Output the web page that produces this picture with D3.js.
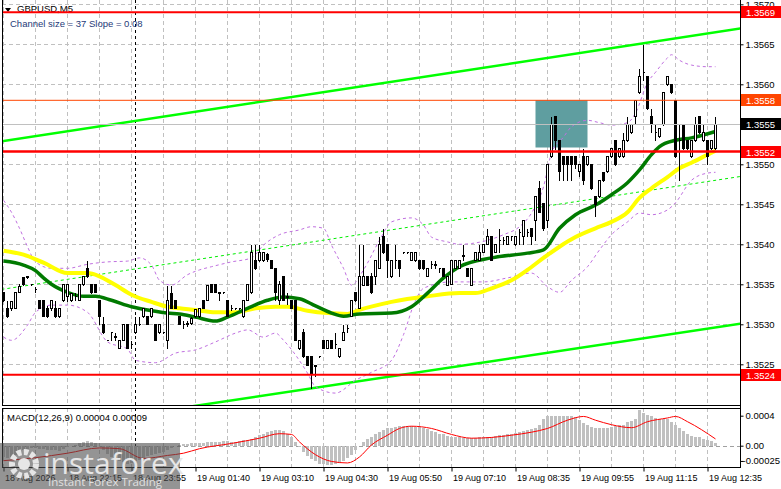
<!DOCTYPE html>
<html>
<head>
<meta charset="utf-8">
<script src="https://cdn.jsdelivr.net/npm/d3@7"></script>
<style>
html, body { margin: 0; padding: 0; background: #fff; }
svg { display: block; font-family: "Liberation Sans", Arial, sans-serif; }
</style>
</head>
<body>
<svg id="chart" width="781" height="489"></svg>
<script>
// GBPUSD M5 candles, one entry per bar (bar 0 = left edge)
const opens = [
  1.35340,1.35320,1.35320,1.35320,1.35340,1.35359,1.35359,1.35350,1.35344,1.35330,
  1.35330,1.35320,1.35320,1.35320,1.35310,1.35330,1.35335,1.35330,1.35336,1.35330,
  1.35350,1.35370,1.35350,1.35350,1.35330,1.35300,1.35280,1.35290,1.35285,1.35270,
  1.35280,1.35300,1.35275,1.35290,1.35300,1.35310,1.35310,1.35310,1.35300,1.35290,
  1.35290,1.35280,1.35339,1.35330,1.35311,1.35300,1.35300,1.35302,1.35310,1.35310,
  1.35330,1.35330,1.35350,1.35350,1.35340,1.35340,1.35330,1.35320,1.35320,1.35320,
  1.35310,1.35330,1.35341,1.35380,1.35380,1.35380,1.35388,1.35380,1.35370,1.35330,
  1.35360,1.35335,1.35330,1.35330,1.35270,1.35291,1.35260,1.35260,1.35249,1.35260,
  1.35280,1.35270,1.35280,1.35275,1.35260,1.35280,1.35295,1.35310,1.35341,1.35320,
  1.35349,1.35360,1.35360,1.35360,1.35370,1.35410,1.35400,1.35360,1.35380,1.35380,
  1.35390,1.35390,1.35380,1.35380,1.35380,1.35380,1.35360,1.35375,1.35375,1.35370,
  1.35370,1.35349,1.35350,1.35370,1.35370,1.35385,1.35370,1.35349,1.35380,1.35380,
  1.35390,1.35400,1.35410,1.35390,1.35405,1.35405,1.35400,1.35410,1.35400,1.35415,
  1.35410,1.35415,1.35420,1.35430,1.35470,1.35451,1.35430,1.35510,1.35560,1.35530,
  1.35510,1.35510,1.35510,1.35510,1.35491,1.35510,1.35500,1.35500,1.35460,1.35460,
  1.35490,1.35491,1.35510,1.35530,1.35510,1.35510,1.35530,1.35540,1.35560,1.35590,
  1.35615,1.35610,1.35560,1.35540,1.35535,1.35550,1.35600,1.35600,1.35580,1.35530,
  1.35550,1.35530,1.35510,1.35530,1.35560,1.35530,1.35530,1.35520,1.35520
];
const highs = [
  1.35342,1.35330,1.35330,1.35341,1.35352,1.35361,1.35360,1.35351,1.35348,1.35331,
  1.35332,1.35324,1.35332,1.35330,1.35321,1.35351,1.35352,1.35340,1.35341,1.35350,
  1.35360,1.35380,1.35351,1.35351,1.35331,1.35310,1.35281,1.35290,1.35290,1.35281,
  1.35300,1.35301,1.35280,1.35310,1.35310,1.35321,1.35312,1.35322,1.35301,1.35301,
  1.35291,1.35349,1.35349,1.35331,1.35312,1.35305,1.35305,1.35310,1.35320,1.35320,
  1.35331,1.35350,1.35351,1.35351,1.35341,1.35341,1.35331,1.35326,1.35321,1.35321,
  1.35331,1.35351,1.35400,1.35400,1.35401,1.35391,1.35390,1.35381,1.35372,1.35355,
  1.35362,1.35340,1.35331,1.35331,1.35281,1.35295,1.35261,1.35261,1.35250,1.35261,
  1.35281,1.35281,1.35281,1.35290,1.35270,1.35300,1.35300,1.35332,1.35342,1.35400,
  1.35400,1.35361,1.35365,1.35381,1.35410,1.35420,1.35401,1.35381,1.35400,1.35381,
  1.35391,1.35391,1.35391,1.35391,1.35381,1.35381,1.35371,1.35380,1.35380,1.35371,
  1.35371,1.35361,1.35381,1.35381,1.35381,1.35400,1.35371,1.35371,1.35391,1.35400,
  1.35401,1.35420,1.35411,1.35401,1.35420,1.35410,1.35411,1.35411,1.35411,1.35420,
  1.35431,1.35420,1.35421,1.35461,1.35480,1.35452,1.35500,1.35560,1.35561,1.35531,
  1.35512,1.35511,1.35511,1.35511,1.35501,1.35520,1.35511,1.35501,1.35461,1.35481,
  1.35491,1.35511,1.35521,1.35531,1.35521,1.35540,1.35560,1.35551,1.35581,1.35620,
  1.35650,1.35611,1.35570,1.35550,1.35546,1.35592,1.35611,1.35601,1.35581,1.35550,
  1.35551,1.35531,1.35531,1.35560,1.35561,1.35550,1.35531,1.35531,1.35560
];
const lows = [
  1.35329,1.35309,1.35318,1.35320,1.35340,1.35349,1.35358,1.35349,1.35340,1.35320,
  1.35310,1.35309,1.35318,1.35309,1.35309,1.35329,1.35329,1.35329,1.35330,1.35330,
  1.35349,1.35359,1.35339,1.35340,1.35300,1.35289,1.35280,1.35280,1.35280,1.35270,
  1.35280,1.35270,1.35270,1.35289,1.35299,1.35309,1.35300,1.35309,1.35280,1.35289,
  1.35289,1.35270,1.35320,1.35320,1.35300,1.35295,1.35298,1.35300,1.35309,1.35309,
  1.35320,1.35330,1.35340,1.35340,1.35330,1.35339,1.35310,1.35318,1.35319,1.35319,
  1.35309,1.35330,1.35339,1.35369,1.35379,1.35379,1.35379,1.35370,1.35330,1.35325,
  1.35330,1.35325,1.35320,1.35280,1.35269,1.35259,1.35249,1.35220,1.35235,1.35259,
  1.35270,1.35270,1.35270,1.35270,1.35259,1.35280,1.35290,1.35310,1.35329,1.35320,
  1.35349,1.35349,1.35339,1.35350,1.35370,1.35389,1.35359,1.35359,1.35370,1.35360,
  1.35389,1.35389,1.35380,1.35379,1.35369,1.35369,1.35360,1.35370,1.35370,1.35365,
  1.35360,1.35349,1.35350,1.35370,1.35370,1.35380,1.35360,1.35349,1.35380,1.35380,
  1.35390,1.35400,1.35380,1.35390,1.35390,1.35400,1.35400,1.35405,1.35399,1.35400,
  1.35400,1.35410,1.35400,1.35405,1.35440,1.35418,1.35422,1.35509,1.35519,1.35480,
  1.35480,1.35480,1.35480,1.35495,1.35485,1.35475,1.35499,1.35469,1.35435,1.35459,
  1.35479,1.35490,1.35509,1.35499,1.35509,1.35509,1.35529,1.35539,1.35550,1.35589,
  1.35605,1.35569,1.35540,1.35530,1.35534,1.35549,1.35599,1.35589,1.35509,1.35480,
  1.35519,1.35519,1.35509,1.35529,1.35539,1.35529,1.35500,1.35519,1.35519
];
const closes = [
  1.35330,1.35310,1.35329,1.35340,1.35348,1.35350,1.35360,1.35350,1.35344,1.35320,
  1.35310,1.35310,1.35330,1.35310,1.35320,1.35350,1.35350,1.35339,1.35336,1.35350,
  1.35360,1.35360,1.35340,1.35340,1.35310,1.35290,1.35280,1.35290,1.35284,1.35280,
  1.35300,1.35270,1.35276,1.35300,1.35300,1.35320,1.35300,1.35320,1.35280,1.35300,
  1.35290,1.35330,1.35320,1.35320,1.35300,1.35300,1.35302,1.35308,1.35319,1.35320,
  1.35320,1.35349,1.35341,1.35341,1.35339,1.35340,1.35310,1.35320,1.35320,1.35320,
  1.35330,1.35350,1.35391,1.35370,1.35390,1.35390,1.35382,1.35370,1.35341,1.35350,
  1.35330,1.35334,1.35320,1.35280,1.35280,1.35260,1.35249,1.35239,1.35248,1.35260,
  1.35270,1.35280,1.35270,1.35275,1.35270,1.35291,1.35295,1.35330,1.35330,1.35360,
  1.35360,1.35349,1.35340,1.35380,1.35400,1.35390,1.35380,1.35380,1.35380,1.35370,
  1.35390,1.35390,1.35390,1.35390,1.35370,1.35370,1.35370,1.35375,1.35374,1.35370,
  1.35360,1.35360,1.35380,1.35380,1.35380,1.35386,1.35360,1.35370,1.35390,1.35390,
  1.35400,1.35410,1.35380,1.35400,1.35405,1.35405,1.35410,1.35410,1.35410,1.35415,
  1.35430,1.35415,1.35410,1.35460,1.35441,1.35420,1.35500,1.35550,1.35530,1.35491,
  1.35500,1.35500,1.35500,1.35500,1.35500,1.35480,1.35510,1.35470,1.35450,1.35480,
  1.35480,1.35510,1.35520,1.35500,1.35520,1.35530,1.35550,1.35550,1.35580,1.35610,
  1.35615,1.35570,1.35550,1.35540,1.35545,1.35591,1.35610,1.35590,1.35510,1.35530,
  1.35520,1.35520,1.35530,1.35550,1.35541,1.35540,1.35510,1.35530,1.35550
];

// moving averages and bands: [bar, price]
const greenMA = [
  [0,1.35379],[5,1.35374],[8,1.35367],[10,1.35358],[12,1.35350],[16,1.35340],[20,1.35335],
  [23,1.35335],[27,1.35330],[32,1.35322],[37,1.35317],[41,1.35314],[44,1.35313],[48,1.35309],
  [53,1.35304],[56,1.35309],[61,1.35320],[66,1.35330],[70,1.35334],[74,1.35332],[78,1.35323],
  [82,1.35314],[85,1.35310],[89,1.35313],[97,1.35314],[102,1.35322],[106,1.35339],[110,1.35358],
  [114,1.35372],[122,1.35383],[131,1.35389],[135,1.35393],[139,1.35420],[143,1.35437],
  [148,1.35449],[152,1.35462],[156,1.35477],[159,1.35493],[162,1.35512],[164,1.35522],
  [168,1.35530],[172,1.35533],[178,1.35541]
];
const yellowMA = [
  [0,1.35392],[5,1.35387],[10,1.35377],[16,1.35364],[21,1.35364],[24,1.35360],[28,1.35349],
  [32,1.35337],[37,1.35328],[41,1.35322],[44,1.35320],[48,1.35318],[53,1.35315],[58,1.35315],
  [63,1.35320],[68,1.35322],[71,1.35322],[76,1.35317],[81,1.35314],[86,1.35313],[89,1.35318],
  [97,1.35328],[106,1.35335],[114,1.35339],[118,1.35339],[122,1.35345],[127,1.35355],
  [131,1.35368],[135,1.35383],[139,1.35397],[143,1.35409],[148,1.35420],[152,1.35428],
  [156,1.35440],[159,1.35458],[162,1.35470],[166,1.35484],[169,1.35495],[172,1.35502],
  [176,1.35512],[178,1.35517]
];
const upperBand = [
  [0,1.35455],[2,1.35440],[4,1.35420],[6,1.35397],[8,1.35378],[12,1.35370],[16,1.35370],
  [21,1.35375],[26,1.35378],[31,1.35379],[34,1.35383],[37,1.35374],[39,1.35355],[42,1.35349],
  [46,1.35362],[49,1.35368],[52,1.35372],[57,1.35378],[62,1.35383],[65,1.35399],[69,1.35412],
  [74,1.35418],[77,1.35422],[80,1.35420],[82,1.35399],[85,1.35370],[87,1.35349],[90,1.35368],
  [94,1.35405],[97,1.35428],[102,1.35433],[105,1.35424],[107,1.35409],[111,1.35403],
  [114,1.35400],[117,1.35401],[121,1.35405],[125,1.35412],[129,1.35422],[132,1.35439],
  [135,1.35472],[137,1.35514],[140,1.35534],[142,1.35547],[146,1.35555],[149,1.35552],
  [152,1.35549],[156,1.35552],[158,1.35564],[161,1.35602],[163,1.35615],[166,1.35633],
  [167,1.35637],[169,1.35630],[172,1.35624],[176,1.35622],[178,1.35622]
];
const lowerBand = [
  [0,1.35284],[2,1.35280],[6,1.35299],[8,1.35315],[12,1.35324],[16,1.35324],[21,1.35315],
  [26,1.35278],[31,1.35269],[33,1.35255],[38,1.35252],[43,1.35264],[48,1.35268],[53,1.35278],
  [58,1.35289],[61,1.35293],[65,1.35284],[68,1.35289],[70,1.35280],[76,1.35239],[78,1.35222],
  [83,1.35214],[88,1.35230],[92,1.35240],[97,1.35255],[100,1.35287],[103,1.35330],[105,1.35345],
  [112,1.35353],[116,1.35353],[120,1.35353],[126,1.35358],[132,1.35364],[136,1.35347],
  [139,1.35340],[142,1.35355],[146,1.35372],[149,1.35393],[152,1.35412],[156,1.35428],
  [159,1.35439],[162,1.35437],[166,1.35443],[168,1.35452],[172,1.35480],[176,1.35489],
  [178,1.35490]
];

// regression channel: price at bar 0 and bar 178
const channelBars = [0, 178];
const channelUpper = [1.35529, 1.35665];
const channelMid = [1.35344, 1.35480];
const channelLower = [1.35162, 1.35296];

// horizontal levels and the marked zone
const levelPrices = [1.3569, 1.3558, 1.35516, 1.35237];
const zoneBars = [133, 146];
const zonePrices = [1.35580, 1.35521];

// MACD(12,26,9): histogram per bar, signal read at points
const macdHist = [
  -0.00015,-0.00016,-0.00015,-0.00012,-0.00009,-0.00006,-0.00004,-0.00003,-0.00003,-0.00004,
  -0.00005,-0.00006,-0.00006,-0.00006,-0.00007,-0.00005,-0.00002,0.00000,0.00001,0.00003,
  0.00005,0.00006,0.00005,0.00003,-0.00001,-0.00006,-0.00011,-0.00015,-0.00018,-0.00021,
  -0.00022,-0.00024,-0.00023,-0.00021,-0.00019,-0.00017,-0.00014,-0.00012,-0.00011,-0.00010,
  -0.00009,-0.00006,-0.00003,-0.00001,0.00001,0.00002,0.00002,0.00003,0.00003,0.00003,
  0.00004,0.00005,0.00005,0.00005,0.00005,0.00006,0.00006,0.00005,0.00005,0.00006,
  0.00007,0.00008,0.00009,0.00011,0.00014,0.00016,0.00018,0.00020,0.00021,0.00021,
  0.00019,0.00016,0.00011,0.00005,-0.00002,-0.00009,-0.00014,-0.00018,-0.00021,-0.00024,
  -0.00025,-0.00026,-0.00026,-0.00025,-0.00023,-0.00020,-0.00016,-0.00012,-0.00006,0.00000,
  0.00005,0.00009,0.00012,0.00015,0.00018,0.00021,0.00023,0.00024,0.00025,0.00026,
  0.00026,0.00026,0.00026,0.00025,0.00025,0.00024,0.00022,0.00020,0.00018,0.00016,
  0.00015,0.00013,0.00012,0.00011,0.00011,0.00010,0.00010,0.00010,0.00010,0.00011,
  0.00011,0.00012,0.00012,0.00013,0.00014,0.00014,0.00015,0.00016,0.00017,0.00018,
  0.00019,0.00021,0.00022,0.00023,0.00028,0.00036,0.00039,0.00040,0.00040,0.00040,
  0.00040,0.00040,0.00039,0.00038,0.00034,0.00030,0.00027,0.00025,0.00024,0.00023,
  0.00023,0.00024,0.00025,0.00026,0.00027,0.00028,0.00031,0.00033,0.00036,0.00047,
  0.00044,0.00041,0.00040,0.00037,0.00036,0.00035,0.00035,0.00032,0.00028,0.00023,
  0.00019,0.00016,0.00013,0.00012,0.00011,0.00009,0.00007,0.00006,0.00004
];
const macdSignal = [
  [0,-0.00020],[8,-0.00016],[16,-0.00010],[24,-0.00003],[29,-0.00004],[35,-0.00017],
  [41,-0.00013],[45,-0.00010],[49,-0.00004],[57,0.00003],[64,0.00010],[69,0.00016],
  [72,0.00015],[74,0.00005],[78,-0.00012],[82,-0.00021],[86,-0.00023],[89,-0.00015],
  [92,0.00001],[96,0.00014],[99,0.00023],[102,0.00026],[107,0.00023],[112,0.00015],
  [117,0.00010],[122,0.00011],[127,0.00014],[132,0.00018],[136,0.00023],[141,0.00034],
  [145,0.00039],[148,0.00034],[152,0.00028],[157,0.00024],[161,0.00032],[166,0.00037],
  [168,0.00039],[171,0.00032],[178,0.00009]
];

// axis labels
const priceTicks = [1.3570, 1.3565, 1.3560, 1.3555, 1.3550, 1.3545, 1.3540, 1.3535, 1.3530, 1.3525];
const macdTicks = [0.0004, 0, -0.00025];
const macdTickText = ['0.0004', '0.00', '-0.00025'];
const timeBars = [0, 16, 32, 48, 64, 80, 96, 112, 128, 144, 160, 176];
const timeLabels = ['18 Aug 2026', '18 Aug 22:15', '18 Aug 23:55', '19 Aug 01:40', '19 Aug 03:10',
  '19 Aug 04:30', '19 Aug 05:50', '19 Aug 07:10', '19 Aug 08:35', '19 Aug 09:55',
  '19 Aug 11:15', '19 Aug 12:35'];
const daySeparatorBars = [33];

const svg = d3.select('#chart');
const plotLeft = 2, plotRight = 740;
const mainTop = 0, mainBottom = 405, macdTop = 408, macdBottom = 467;
const last = closes.length - 1;

const x = d3.scaleLinear().domain([0, 178]).range([3.5, 715.5]);
const y = d3.scaleLinear().domain([1.3520, 1.3570]).range([404.3, 4.3]);
const ym = d3.scaleLinear().domain([0, 0.0004]).range([445.7, 415.7]);
const snap = v => Math.round(v) + 0.5;

const defs = svg.append('defs');
defs.append('clipPath').attr('id', 'clipMain').append('rect')
  .attr('x', plotLeft).attr('y', mainTop).attr('width', plotRight - plotLeft).attr('height', mainBottom - mainTop);
defs.append('clipPath').attr('id', 'clipMacd').append('rect')
  .attr('x', plotLeft).attr('y', macdTop).attr('width', plotRight - plotLeft).attr('height', macdBottom - macdTop);

const main = svg.append('g').attr('clip-path', 'url(#clipMain)');
const macd = svg.append('g').attr('clip-path', 'url(#clipMacd)');

// grid
const gridBars = d3.range(0, 179, 8);
[main, macd].forEach((g, k) => {
  const top = k ? macdTop : mainTop, bot = k ? macdBottom : mainBottom;
  g.selectAll('line.vgrid').data(gridBars).join('line').attr('class', 'vgrid')
    .attr('x1', d => x(d)).attr('x2', d => x(d)).attr('y1', top).attr('y2', bot)
    .attr('stroke', '#c0c0c0').attr('stroke-dasharray', '4,3');
});
main.selectAll('line.hgrid').data(priceTicks).join('line').attr('class', 'hgrid')
  .attr('x1', plotLeft).attr('x2', plotRight)
  .attr('y1', d => snap(y(d))).attr('y2', d => snap(y(d)))
  .attr('stroke', '#c0c0c0').attr('stroke-dasharray', '4,3');

// day separator
[main, macd].forEach((g, k) => {
  g.selectAll('line.sep').data(daySeparatorBars).join('line').attr('class', 'sep')
    .attr('x1', d => x(d)).attr('x2', d => x(d))
    .attr('y1', k ? macdTop : mainTop).attr('y2', k ? macdBottom : mainBottom)
    .attr('stroke', '#000').attr('stroke-dasharray', '3,3');
});

// zone box
main.append('rect')
  .attr('x', x(zoneBars[0])).attr('width', x(zoneBars[1]) - x(zoneBars[0]))
  .attr('y', y(zonePrices[0])).attr('height', y(zonePrices[1]) - y(zonePrices[0]))
  .attr('fill', '#5f9ea0');

// title texts
svg.append('path').attr('d', 'M5,8 L11,8 L8,12 Z').attr('fill', '#000');
svg.append('text').attr('x', 17).attr('y', 12).attr('font-size', 9.5).attr('fill', '#000').text('GBPUSD,M5');
svg.append('text').attr('x', 10).attr('y', 27).attr('font-size', 9.5).attr('fill', '#1e3a78')
  .text('Channel size = 37 Slope = 0.08');

// channel
const chLine = (prices) => {
  const s = d3.scaleLinear().domain(channelBars).range(prices);
  return [[-2, s(-2)], [185, s(185)]];
};
const priceLine = d3.line().x(d => x(d[0])).y(d => y(d[1]));
main.append('path').attr('d', priceLine(chLine(channelUpper))).attr('stroke', '#00ff00').attr('stroke-width', 2.5).attr('fill', 'none');
main.append('path').attr('d', priceLine(chLine(channelLower))).attr('stroke', '#00ff00').attr('stroke-width', 2.5).attr('fill', 'none');
main.append('path').attr('d', priceLine(chLine(channelMid))).attr('stroke', '#00ee00').attr('stroke-width', 1).attr('stroke-dasharray', '3,3').attr('fill', 'none');

// bands and moving averages
const smooth = d3.line().curve(d3.curveMonotoneX).x(d => x(d[0])).y(d => y(d[1]));
[upperBand, lowerBand].forEach(b => {
  main.append('path').attr('d', smooth(b)).attr('fill', 'none')
    .attr('stroke', '#c070e0').attr('stroke-width', 1).attr('stroke-dasharray', '3,3');
});
main.append('path').attr('d', smooth(yellowMA)).attr('fill', 'none').attr('stroke', '#ffff00').attr('stroke-width', 4);
main.append('path').attr('d', smooth(greenMA)).attr('fill', 'none').attr('stroke', '#007a00').attr('stroke-width', 3.5);

// candles
const bars = d3.range(closes.length);
const cg = main.append('g').attr('shape-rendering', 'crispEdges');
cg.selectAll('line.wick').data(bars).join('line').attr('class', 'wick')
  .attr('x1', i => x(i)).attr('x2', i => x(i))
  .attr('y1', i => snap(y(highs[i]))).attr('y2', i => snap(y(lows[i])))
  .attr('stroke', '#000');
cg.selectAll('path.body').data(bars).join('path').attr('class', 'body')
  .attr('d', i => {
    const t = snap(y(Math.max(opens[i], closes[i])));
    const b = snap(y(Math.min(opens[i], closes[i])));
    const l = x(i) - 1, r = x(i) + 1;
    return `M${l},${t}H${r}V${b}H${l}Z`;
  })
  .attr('fill', i => closes[i] >= opens[i] ? '#fff' : '#000')
  .attr('stroke', '#000');

// horizontal levels + bid
const levelColors = ['#ff0000', '#ff4500', '#ff0000', '#ff0000'];
const levelWidths = [2, 1, 2.5, 2];
svg.append('line').attr('x1', plotLeft).attr('x2', plotRight)
  .attr('y1', snap(y(closes[last]))).attr('y2', snap(y(closes[last])))
  .attr('stroke', '#c0c0c0');
levelPrices.forEach((p, k) => {
  svg.append('line').attr('x1', plotLeft).attr('x2', plotRight)
    .attr('y1', y(p)).attr('y2', y(p))
    .attr('stroke', levelColors[k]).attr('stroke-width', levelWidths[k]);
});

// MACD panel
macd.append('line').attr('x1', plotLeft).attr('x2', plotRight)
  .attr('y1', snap(ym(0))).attr('y2', snap(ym(0)))
  .attr('stroke', '#a0a0a0').attr('stroke-dasharray', '4,3');
macd.append('g').attr('shape-rendering', 'crispEdges')
  .selectAll('rect').data(bars).join('rect')
  .attr('x', i => x(i) - 1.5).attr('width', 3)
  .attr('y', i => ym(Math.max(macdHist[i], 0)))
  .attr('height', i => Math.abs(ym(macdHist[i]) - ym(0)))
  .attr('fill', '#c0c0c0');
macd.append('path').attr('d', d3.line().curve(d3.curveMonotoneX).x(d => x(d[0])).y(d => ym(d[1]))(macdSignal))
  .attr('fill', 'none').attr('stroke', '#ff0000').attr('stroke-width', 1);
svg.append('text').attr('x', 7).attr('y', 421).attr('font-size', 9.5).attr('fill', '#000')
  .text(`MACD(12,26,9) ${macdHist[last].toFixed(5)} ${macdSignal[macdSignal.length - 1][1].toFixed(5)}`);

// frames
const frame = svg.append('g').attr('fill', 'none').attr('stroke', '#000').attr('shape-rendering', 'crispEdges');
frame.append('line').attr('x1', 2.5).attr('x2', 2.5).attr('y1', 0).attr('y2', mainBottom);
frame.append('line').attr('x1', 2.5).attr('x2', 2.5).attr('y1', macdTop).attr('y2', macdBottom);
frame.append('line').attr('x1', 2).attr('x2', plotRight).attr('y1', mainBottom + 0.5).attr('y2', mainBottom + 0.5);
frame.append('line').attr('x1', 2).attr('x2', plotRight).attr('y1', macdTop + 0.5).attr('y2', macdTop + 0.5);
frame.append('line').attr('x1', 2).attr('x2', plotRight).attr('y1', macdBottom + 0.5).attr('y2', macdBottom + 0.5);
frame.append('line').attr('x1', plotRight + 0.5).attr('x2', plotRight + 0.5).attr('y1', 0).attr('y2', macdBottom + 1);

// price axis
const priceAxis = d3.axisRight(y).tickValues(priceTicks).tickFormat(d3.format('.4f')).tickSize(3).tickSizeOuter(0);
const gp = svg.append('g').attr('transform', `translate(${plotRight + 0.5},0)`).call(priceAxis);
gp.select('.domain').remove();
gp.attr('font-size', 9.5).attr('font-family', null);
gp.selectAll('text').attr('x', 5).attr('fill', '#000');

// macd axis
const macdAxis = d3.axisRight(ym).tickValues(macdTicks).tickFormat((d, i) => macdTickText[i]).tickSize(3).tickSizeOuter(0);
const gm = svg.append('g').attr('transform', `translate(${plotRight + 0.5},0)`).call(macdAxis);
gm.select('.domain').remove();
gm.attr('font-size', 9.5).attr('font-family', null);
gm.selectAll('text').attr('x', d => d < 0 ? 2 : 5).attr('fill', '#000');
gm.selectAll('.tick').filter(d => d < 0).attr('transform', `translate(0,${ym(-0.00025) - 3})`);

// price tags on the right
const tags = [
  { p: levelPrices[0], c: '#ff0000' },
  { p: levelPrices[1], c: '#ff4500' },
  { p: closes[last], c: '#000000' },
  { p: levelPrices[2], c: '#ff0000' },
  { p: levelPrices[3], c: '#ff0000' }
];
const tg = svg.append('g');
tags.forEach(t => {
  const yy = Math.round(y(t.p));
  tg.append('rect').attr('x', plotRight + 1).attr('y', yy - 6).attr('width', 40).attr('height', 12).attr('fill', t.c);
  tg.append('text').attr('x', plotRight + 6).attr('y', yy + 3.5).attr('font-size', 9.5).attr('fill', '#fff')
    .text(t.p.toFixed(4));
});

// time axis
const timeAxis = d3.axisBottom(x).tickValues(timeBars).tickFormat((d, i) => timeLabels[i]).tickSize(4).tickSizeOuter(0);
const gt = svg.append('g').attr('transform', `translate(0,${macdBottom + 0.5})`).call(timeAxis);
gt.select('.domain').remove();
gt.attr('font-size', 9).attr('font-family', null);
gt.selectAll('text').attr('text-anchor', 'start').attr('x', 1).attr('y', 7).attr('fill', '#000');

// watermark
const wm = svg.append('g');
wm.append('rect').attr('x', 0).attr('y', 443).attr('width', 180).attr('height', 46).attr('fill', '#4d4d4d').attr('opacity', 0.6);
wm.append('circle').attr('cx', 24).attr('cy', 464).attr('r', 12).attr('fill', 'none')
  .attr('stroke', '#e6e6e6').attr('stroke-width', 6).attr('stroke-dasharray', '4.5,2.5');
wm.append('circle').attr('cx', 24).attr('cy', 464).attr('r', 6).attr('fill', '#e6e6e6');
wm.append('text').attr('x', 43).attr('y', 474).attr('font-family', '"Open Sans", sans-serif').attr('font-size', 30)
  .attr('fill', '#e6e6e6').text('instaforex');
wm.append('text').attr('x', 48).attr('y', 486).attr('font-family', '"Open Sans", sans-serif').attr('font-size', 11.5)
  .attr('fill', '#e0e0e0').text('Instant Forex Trading');
</script>
</body>
</html>
